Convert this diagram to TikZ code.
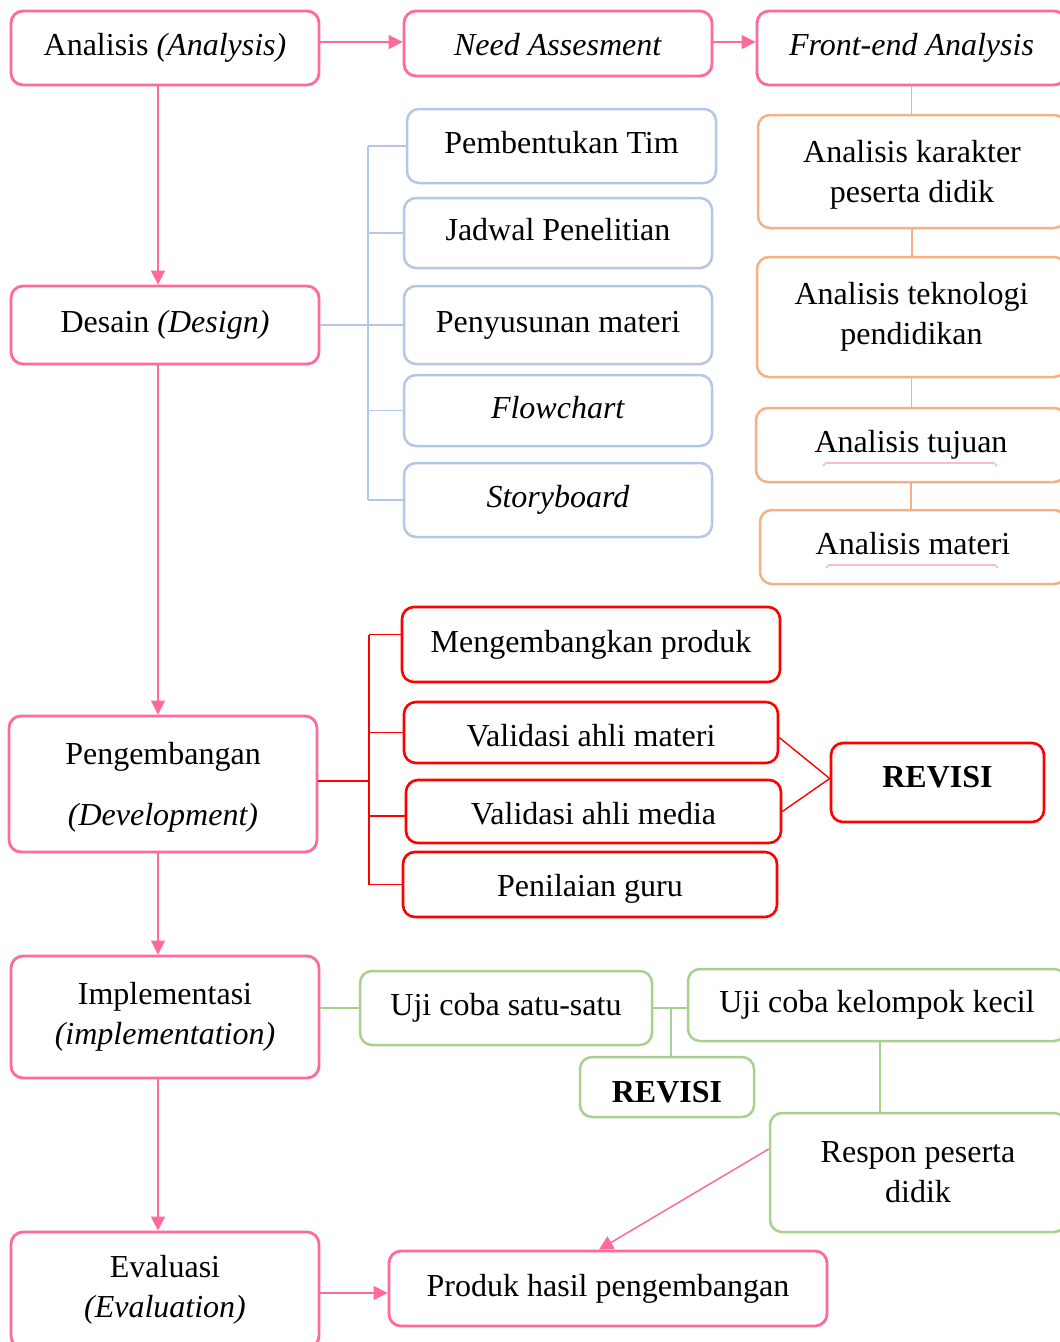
\documentclass[tikz,border=0pt]{standalone}
\usepackage{fontspec}
\setmainfont{Liberation Serif}
\usetikzlibrary{arrows.meta}
\definecolor{pinkc}{RGB}{255,105,155}
\definecolor{orangec}{RGB}{244,177,131}
\definecolor{bluec}{RGB}{180,199,231}
\definecolor{redc}{RGB}{255,0,0}
\definecolor{greenc}{RGB}{169,209,142}
\definecolor{markc}{RGB}{248,190,208}
\begin{document}
\begin{tikzpicture}[x=1pt,y=-1pt,
  box/.style={rounded corners=12, fill=white, inner sep=0pt, align=center,
    font=\fontsize{32}{40}\selectfont},
  one/.style={text height=22pt, text depth=7pt},
  pbox/.style={box, draw=pinkc, line width=2.8},
  obox/.style={box, draw=orangec, line width=2.5},
  bbox/.style={box, draw=bluec, line width=2.5},
  rbox/.style={box, draw=redc, line width=2.6},
  gbox/.style={box, draw=greenc, line width=2.5},
  parr/.style={draw=pinkc, line width=1.5, -{Triangle[length=14pt,width=14pt]}},
  oline/.style={draw=orangec, line width=1.3},
  bline/.style={draw=bluec, line width=1.3},
  rline/.style={draw=redc, line width=1.4},
  gline/.style={draw=greenc, line width=1.3},
  tickline/.style={draw=markc, line width=1.6},
]
\useasboundingbox (0,0) rectangle (1060,1342);
\fill[white] (0,0) rectangle (1060,1342);

% main ADDIE column
\node[pbox, one, minimum width=308, minimum height=74] (an) at (165,48) {Analisis \textit{(Analysis)}};
\node[pbox, one, minimum width=308, minimum height=78] (de) at (165,325) {Desain \textit{(Design)}};
\node[pbox, minimum width=308, minimum height=136] (pe) at (163,784) {\rule{0pt}{29pt}Pengembangan\\[21pt]\textit{(Development)}};
\node[pbox, minimum width=308, minimum height=122] (im) at (165,1017) {Implementasi\\\textit{(implementation)}};
\node[pbox, minimum width=308, minimum height=116] (ev) at (165,1290) {Evaluasi\\\textit{(Evaluation)}};

% analysis row
\node[pbox, one, text height=30pt, minimum width=308, minimum height=65] (na) at (558,43.5) {\textit{Need Assesment}};
\node[pbox, one, minimum width=309, minimum height=74] (fe) at (911.5,48) {\textit{Front-end Analysis}};

% front-end analysis steps
\node[obox, minimum width=308, minimum height=113] (o1) at (912,171.5) {\rule{0pt}{28pt}Analisis karakter\\peserta didik};
\node[obox, minimum width=309, minimum height=120] (o2) at (911.5,317) {Analisis teknologi\\pendidikan};
\node[obox, one, minimum width=310, minimum height=74] (o3) at (911,445) {Analisis tujuan};
\node[obox, one, minimum width=306, minimum height=74] (o4) at (913,547) {Analisis materi};

% design steps
\node[bbox, one, minimum width=309, minimum height=74] (b1) at (561.5,146) {Pembentukan Tim};
\node[bbox, one, minimum width=308, minimum height=70] (b2) at (558,233) {Jadwal Penelitian};
\node[bbox, one, minimum width=308, minimum height=78] (b3) at (558,325) {Penyusunan materi};
\node[bbox, one, minimum width=308, minimum height=71] (b4) at (558,410.5) {\textit{Flowchart}};
\node[bbox, one, minimum width=308, minimum height=74] (b5) at (558,500) {\textit{Storyboard}};

% development steps
\node[rbox, one, minimum width=378, minimum height=75] (r1) at (591,644.5) {Mengembangkan produk};
\node[rbox, one, text height=34pt, minimum width=374, minimum height=61] (r2) at (591,732.5) {Validasi ahli materi};
\node[rbox, one, text height=32pt, minimum width=375, minimum height=63] (r3) at (593.5,811.5) {Validasi ahli media};
\node[rbox, one, text height=30pt, minimum width=374, minimum height=65] (r4) at (590,884.5) {Penilaian guru};
\node[rbox, one, text height=16pt, minimum width=213, minimum height=79] (rv) at (937.5,782.5) {\textbf{REVISI}};

% implementation steps
\node[gbox, one, minimum width=292, minimum height=74] (g1) at (506,1008) {Uji coba satu-satu};
\node[gbox, one, minimum width=378, minimum height=72] (g2) at (877,1005) {Uji coba kelompok kecil};
\node[gbox, one, text height=38pt, minimum width=174, minimum height=60] (gv) at (667,1087) {\textbf{REVISI}};
\node[gbox, minimum width=296, minimum height=119] (g3) at (918,1172.5) {Respon peserta\\didik};

% evaluation result
\node[pbox, one, minimum width=438, minimum height=75] (pr) at (608,1288.5) {Produk hasil pengembangan};

% pink flow arrows
\draw[parr] ([yshift=6]an.east) -- ([yshift=6]an.east -| na.west);
\draw[parr] ([yshift=1.5]na.east) -- ([yshift=1.5]na.east -| fe.west);
\draw[parr] ([xshift=-7]an.south) -- ([xshift=-7]an.south |- de.north);
\draw[parr] ([xshift=-7]de.south) -- ([xshift=-7]de.south |- pe.north);
\draw[parr] ([xshift=-5]pe.south) -- ([xshift=-5]pe.south |- im.north);
\draw[parr] ([xshift=-7]im.south) -- ([xshift=-7]im.south |- ev.north);
\draw[parr] ([yshift=-3]ev.east) -- ([yshift=-3]ev.east -| pr.west);
\draw[parr] ([yshift=23.5]g3.west) -- ([xshift=-9]pr.north);

% front-end analysis chain
\draw[oline] (fe.south) -- (fe.south |- o1.north);
\draw[oline] (o1.south) -- (o1.south |- o2.north);
\draw[oline] (o2.south) -- (o2.south |- o3.north);
\draw[oline] (o3.south) -- (o3.south |- o4.north);

% design tree
\coordinate (bx) at (368,0);
\draw[bline] (de.east) -- (b3.west);
\draw[bline] (b1.west -| bx) -- (b5.west -| bx);
\foreach \n in {b1,b2,b4,b5} \draw[bline] (\n.west -| bx) -- (\n.west);

% development tree
\coordinate (rx) at (369,0);
\draw[rline] ([yshift=3]pe.east) -- ([yshift=3]pe.east -| rx);
\draw[rline] ([yshift=10]r1.west -| rx) -- (r4.west -| rx);
\draw[rline] ([yshift=10]r1.west -| rx) -- ([yshift=10]r1.west);
\draw[rline] (r2.west -| rx) -- (r2.west);
\draw[rline] ([yshift=-4.5]r3.west -| rx) -- ([yshift=-4.5]r3.west);
\draw[rline] (r4.west -| rx) -- (r4.west);
\draw[rline] ([yshift=-5]r2.east) -- ([yshift=4]rv.west);
\draw[rline] (r3.east) -- ([yshift=4]rv.west);

% implementation tree
\coordinate (gx) at (671,0);
\draw[gline] (g1.west -| im.east) -- (g1.west);
\draw[gline] (g1.east) -- (g1.east -| g2.west);
\draw[gline] (g1.east -| gx) -- (gx |- gv.north);
\draw[gline] ([xshift=3]g2.south) -- ([xshift=3]g2.south |- g3.north);

% small ticks under two analysis labels
\draw[tickline] ([shift={(-88,21)}]o3.center) -- ++(3,-3) -- ++(168,0) -- ++(3,3);
\draw[tickline] ([shift={(-87,21)}]o4.center) -- ++(3,-3) -- ++(166,0) -- ++(3,3);
\end{tikzpicture}
\end{document}
